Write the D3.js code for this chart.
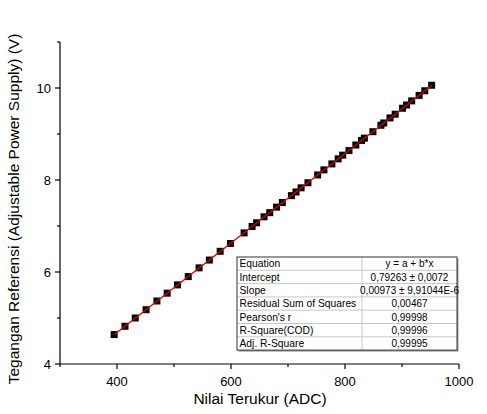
<!DOCTYPE html>
<html><head><meta charset="utf-8">
<script src="https://cdn.jsdelivr.net/npm/d3@7"></script>
<style>body{margin:0;background:#fff;}svg{display:block;font-family:"Liberation Sans",Arial,sans-serif;}</style>
</head><body>
<svg id="c" width="487" height="414"></svg>
<script>
const adc = [395,414,432,451,470,488,506,525,544,562,581,599,623,637,645,658,668,680,690,706,714,723,735,752,763,777,788,796,807,819,829,834,849,863,868,879,888,901,908,917,930,940,952];
const volt = [4.64,4.82,5.00,5.18,5.37,5.54,5.72,5.90,6.09,6.26,6.45,6.62,6.85,6.99,7.07,7.20,7.29,7.41,7.51,7.66,7.74,7.83,7.94,8.11,8.22,8.35,8.46,8.54,8.64,8.76,8.86,8.91,9.05,9.19,9.24,9.35,9.43,9.56,9.63,9.72,9.84,9.94,10.06];
const fitIntercept = 0.79263, fitSlope = 0.00973;
const xTicks = [400,600,800,1000];
const xMinor = [300,500,700,900];
const yTicks = [4,6,8,10];
const yMinor = [5,7,9,11];
const tableLabels = ["Equation","Intercept","Slope","Residual Sum of Squares","Pearson's r","R-Square(COD)","Adj. R-Square"];
const tableValues = ["y = a + b*x","0,79263 ± 0,0072","0,00973 ± 9,91044E-6","0,00467","0,99998","0,99996","0,99995"];

const svg = d3.select("#c");
const x = d3.scaleLinear().domain([300,1000]).range([60,459]);
const y = d3.scaleLinear().domain([4,11]).range([364,42]);

// axes
const gx = svg.append("g").attr("transform","translate(0,364)");
gx.append("line").attr("x1",60).attr("x2",459).attr("stroke","#000").attr("stroke-width",1.2);
gx.selectAll(".mj").data(xTicks).join("line").attr("x1",d=>x(d)).attr("x2",d=>x(d)).attr("y1",0).attr("y2",5).attr("stroke","#000").attr("stroke-width",1.2);
gx.selectAll(".mn").data(xMinor).join("line").attr("class","mn").attr("x1",d=>x(d)).attr("x2",d=>x(d)).attr("y1",0).attr("y2",3).attr("stroke","#000").attr("stroke-width",1.2);
gx.selectAll("text").data(xTicks).join("text").attr("x",d=>x(d)).attr("y",22).attr("text-anchor","middle").attr("font-size",13).attr("fill","#000").text(d=>d);

const gy = svg.append("g").attr("transform","translate(60,0)");
gy.append("line").attr("y1",42).attr("y2",364).attr("stroke","#000").attr("stroke-width",1.2);
gy.selectAll(".mj").data(yTicks).join("line").attr("y1",d=>y(d)).attr("y2",d=>y(d)).attr("x1",0).attr("x2",-5).attr("stroke","#000").attr("stroke-width",1.2);
gy.selectAll(".mn").data(yMinor).join("line").attr("class","mn").attr("y1",d=>y(d)).attr("y2",d=>y(d)).attr("x1",0).attr("x2",-3).attr("stroke","#000").attr("stroke-width",1.2);
gy.selectAll("text").data(yTicks).join("text").attr("x",-9).attr("y",d=>y(d)+4.5).attr("text-anchor","end").attr("font-size",13).attr("fill","#000").text(d=>d);

svg.append("text").attr("x",260).attr("y",404).attr("text-anchor","middle").attr("font-size",15.5).text("Nilai Terukur (ADC)");
svg.append("text").attr("transform","translate(19,209) rotate(-90)").attr("text-anchor","middle").attr("font-size",15.5).text("Tegangan Referensi (Adjustable Power Supply) (V)");

// points
const pts = adc.map((a,i)=>({a,v:volt[i]}));
svg.append("g").selectAll("rect").data(pts).join("rect")
  .attr("x",d=>x(d.a)-3.5).attr("y",d=>y(d.v)-3.5).attr("width",7).attr("height",7).attr("fill","#000");
// fit line
const x0 = d3.min(adc), x1 = d3.max(adc);
svg.append("line").attr("x1",x(x0)).attr("y1",y(fitIntercept+fitSlope*x0)).attr("x2",x(x1)).attr("y2",y(fitIntercept+fitSlope*x1))
  .attr("stroke","#e00000").attr("stroke-width",1.3);

// table
const tx0=237, tx1=457, tc=362, ty0=257, rh=13.3;
const tb = svg.append("g");
tb.append("rect").attr("x",tx0+1.5).attr("y",ty0+1.5).attr("width",tx1-tx0).attr("height",rh*7).attr("fill","#999");
tb.append("rect").attr("x",tx0).attr("y",ty0).attr("width",tx1-tx0).attr("height",rh*7).attr("fill","#fff");
tb.selectAll(".hl").data(d3.range(1,7)).join("line").attr("x1",tx0).attr("x2",tx1).attr("y1",d=>ty0+d*rh).attr("y2",d=>ty0+d*rh).attr("stroke","#c8c8c8").attr("stroke-width",1);
tb.append("line").attr("x1",tc).attr("x2",tc).attr("y1",ty0).attr("y2",ty0+7*rh).attr("stroke","#c8c8c8");
tb.append("rect").attr("x",tx0).attr("y",ty0).attr("width",tx1-tx0).attr("height",rh*7).attr("fill","none").attr("stroke","#333").attr("stroke-width",1);
tb.selectAll(".lb").data(tableLabels).join("text").attr("x",tx0+2.5).attr("y",(d,i)=>ty0+i*rh+10.3).attr("font-size",10.3).text(d=>d);
tb.selectAll(".vl").data(tableValues).join("text").attr("x",(tc+tx1)/2).attr("y",(d,i)=>ty0+i*rh+10.3).attr("text-anchor","middle").attr("font-size",10).text(d=>d);
</script>
</body></html>
